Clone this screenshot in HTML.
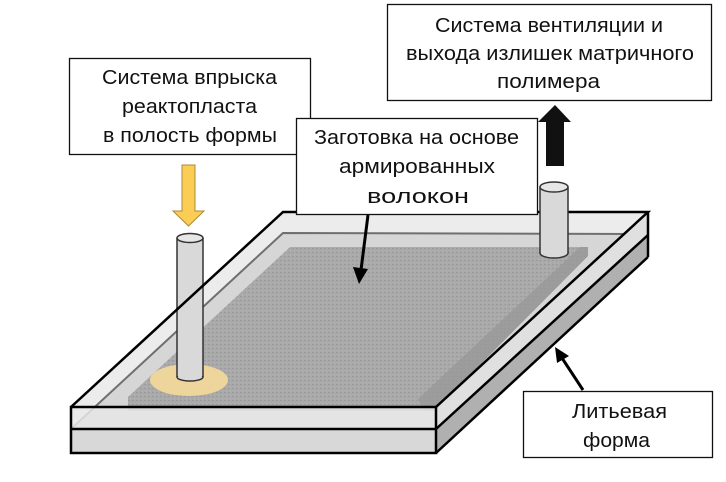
<!DOCTYPE html>
<html><head><meta charset="utf-8"><style>
html,body{margin:0;padding:0;background:#fff;}
svg{display:block;}
text{font-family:"Liberation Sans","DejaVu Sans",sans-serif;font-size:20px;fill:#111;}
</style></head><body>
<svg width="726" height="482" viewBox="0 0 726 482" xmlns="http://www.w3.org/2000/svg">
<defs>
<pattern id="tex" width="4" height="4" patternUnits="userSpaceOnUse">
<rect width="4" height="4" fill="#a9a9a9"/>
<rect x="0" y="0" width="2" height="1" fill="#9c9c9c"/>
<rect x="2" y="2" width="1" height="2" fill="#b3b3b3"/>
</pattern>
</defs>
<!-- bottom plate -->
<polygon points="71,429 436,429 436,453 71,453" fill="#d8d8d8"/>
<polygon points="436,429 648,235 648,257 436,453" fill="#b0b0b0"/>
<!-- top outer surface -->
<polygon points="71,407 436,407 648,212 283,212" fill="#ececec"/>
<!-- inner (bottom plate top seen through) -->
<polygon points="71,429 436,429 648,235 283,233" fill="#d6d6d6"/>
<polyline points="71,429 283,233 640,234" fill="none" stroke="#6f6f6f" stroke-width="2"/>
<!-- preform -->
<polygon points="128,411 128,397 290,247 588,247 588,256 434,411" fill="url(#tex)"/>
<polygon points="418,399 580,247 588,247 588,256 434,411 424,411" fill="#989898" opacity="0.8"/>
<!-- yellow spot -->
<ellipse cx="189" cy="380" rx="39" ry="16" fill="#eed59c"/>
<!-- top plate front & side faces -->
<polygon points="71,407 436,407 436,429 71,429" fill="#e6e6e6" fill-opacity="0.85"/>
<polygon points="436,407 648,212 648,235 436,429" fill="#e0e0e0"/>
<!-- left pillar -->
<rect x="177" y="238" width="26" height="139" fill="#d9d9d9"/>
<ellipse cx="190" cy="377" rx="13" ry="4" fill="#d9d9d9" stroke="#333" stroke-width="1.5"/>
<rect x="177.5" y="238" width="25" height="138" fill="#d9d9d9"/>
<line x1="177" y1="238" x2="177" y2="377" stroke="#333" stroke-width="1.5"/>
<line x1="203" y1="238" x2="203" y2="377" stroke="#333" stroke-width="1.5"/>
<ellipse cx="190" cy="238" rx="13" ry="4.5" fill="#e6e6e6" stroke="#333" stroke-width="1.5"/>
<!-- outlines -->
<g fill="none" stroke="#000" stroke-width="2.5" stroke-linejoin="miter">
<polyline points="71,407 283,212 648,212 436,407"/>
<rect x="71" y="407" width="365" height="46"/>
<line x1="71" y1="429" x2="436" y2="429"/>
<line x1="436" y1="429" x2="648" y2="235"/>
<line x1="436" y1="453" x2="648" y2="257"/>
<line x1="648" y1="212" x2="648" y2="257"/>
</g>
<!-- right pillar -->
<rect x="540" y="187" width="28" height="66" fill="#d9d9d9"/>
<ellipse cx="554" cy="253" rx="14" ry="5" fill="#d9d9d9" stroke="#333" stroke-width="1.5"/>
<rect x="540.5" y="187" width="27" height="66" fill="#d9d9d9"/>
<line x1="540" y1="187" x2="540" y2="253" stroke="#333" stroke-width="1.5"/>
<line x1="568" y1="187" x2="568" y2="253" stroke="#333" stroke-width="1.5"/>
<ellipse cx="554" cy="187" rx="14" ry="5" fill="#e6e6e6" stroke="#333" stroke-width="1.5"/>
<!-- yellow arrow -->
<polygon points="182,165 195,165 195,211 204,211 188.5,226 173,211 182,211" fill="#fbcd55" stroke="#a98b3c" stroke-width="1"/>
<!-- black up arrow -->
<polygon points="546,166 546,122 538,122 555,105 571,122 564,122 564,166" fill="#111"/>
<!-- box 1 -->
<rect x="69.5" y="58.5" width="241" height="96" fill="#fff" stroke="#111" stroke-width="1.3"/>
<text x="189.5" y="84" text-anchor="middle" textLength="175" lengthAdjust="spacingAndGlyphs">Система впрыска</text>
<text x="189.5" y="113" text-anchor="middle" textLength="135" lengthAdjust="spacingAndGlyphs">реактопласта</text>
<text x="190" y="142" text-anchor="middle" textLength="174" lengthAdjust="spacingAndGlyphs">в полость формы</text>
<!-- box 2 -->
<rect x="296.5" y="118.5" width="241" height="96" fill="#fff" stroke="#111" stroke-width="1.3"/>
<text x="416.5" y="144" text-anchor="middle" textLength="205" lengthAdjust="spacingAndGlyphs">Заготовка на основе</text>
<text x="417" y="173" text-anchor="middle" textLength="156" lengthAdjust="spacingAndGlyphs">армированных</text>
<text x="418" y="203" text-anchor="middle" textLength="102" lengthAdjust="spacingAndGlyphs">волокон</text>
<!-- center arrow -->
<line x1="368" y1="215" x2="361" y2="270" stroke="#000" stroke-width="3"/>
<polygon points="359,284 353,267 368,269" fill="#000"/>
<!-- box 3 -->
<rect x="387.5" y="4.5" width="324" height="96" fill="#fff" stroke="#111" stroke-width="1.3"/>
<text x="549" y="32" text-anchor="middle" textLength="228" lengthAdjust="spacingAndGlyphs">Система вентиляции и</text>
<text x="550" y="60" text-anchor="middle" textLength="288" lengthAdjust="spacingAndGlyphs">выхода излишек матричного</text>
<text x="548.5" y="88" text-anchor="middle" textLength="103" lengthAdjust="spacingAndGlyphs">полимера</text>
<!-- box 4 -->
<rect x="523.5" y="391.5" width="189" height="66" fill="#fff" stroke="#111" stroke-width="1.3"/>
<text x="619.5" y="418" text-anchor="middle" textLength="95" lengthAdjust="spacingAndGlyphs">Литьевая</text>
<text x="616.5" y="447" text-anchor="middle" textLength="67" lengthAdjust="spacingAndGlyphs">форма</text>
<!-- box 4 arrow -->
<line x1="583" y1="390" x2="562" y2="358" stroke="#000" stroke-width="3"/>
<polygon points="555,347 569,356 557,363" fill="#000"/>
</svg>
</body></html>
